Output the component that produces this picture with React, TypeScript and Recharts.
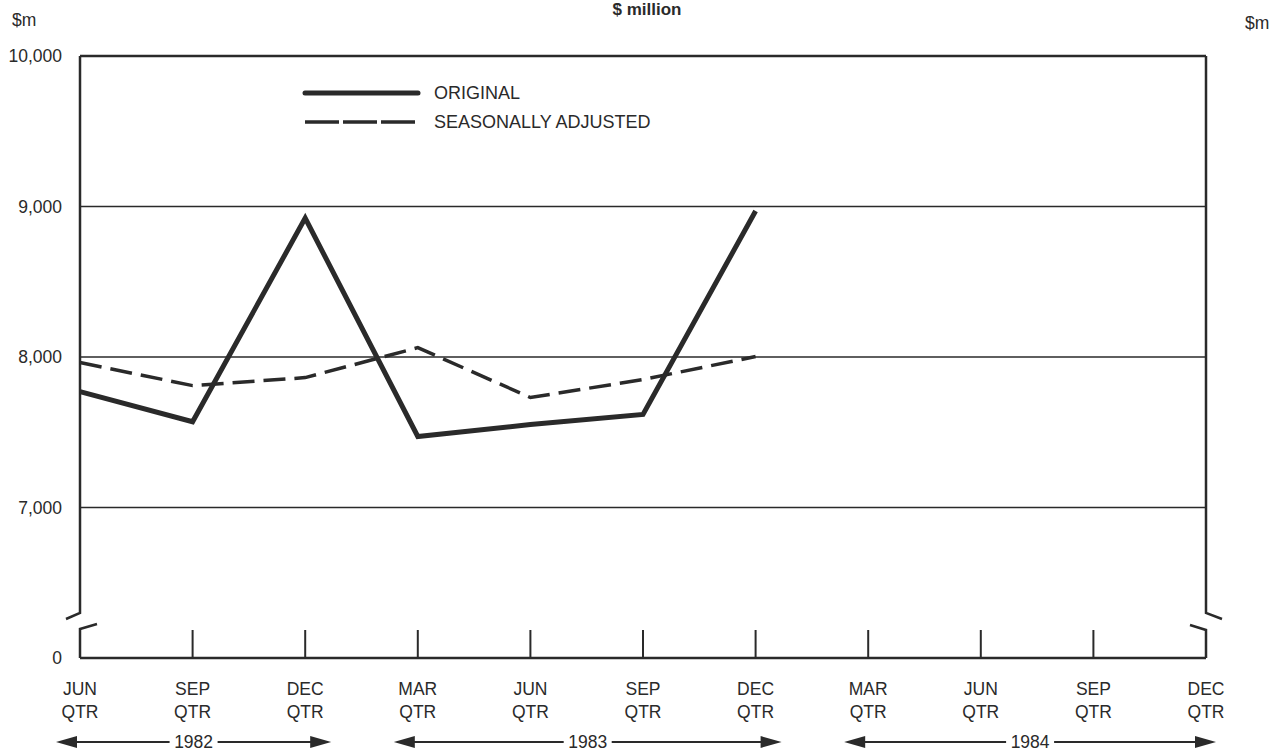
import React from 'react'
import {
  LineChart,
  Line,
  XAxis,
  YAxis,
  ReferenceLine,
  Customized,
} from 'recharts'

// quarters along the bottom
const months = ['JUN', 'SEP', 'DEC', 'MAR', 'JUN', 'SEP', 'DEC', 'MAR', 'JUN', 'SEP', 'DEC']
const years = ['1982', '1982', '1982', '1983', '1983', '1983', '1983', '1984', '1984', '1984', '1984']

// $ million
const original = [7770, 7570, 8923, 7472, 7551, 7618, 8970, null, null, null, null]
const adjusted = [7963, 7810, 7863, 8062, 7731, 7850, 8003, null, null, null, null]

// the axis is broken below 7,000 so the bottom tick stands for 0
const yTicks = [6000, 7000, 8000, 9000, 10000]
const yTickLabels = ['0', '7,000', '8,000', '9,000', '10,000']
const gridValues = [7000, 8000, 9000]

const legendItems = ['ORIGINAL', 'SEASONALLY ADJUSTED']

const W = 1273
const H = 753
const M = { top: 56, right: 0, bottom: 0, left: 0 }
const LEFT_W = 80
const RIGHT_W = 67
const X_H = 95
const PLOT_L = LEFT_W
const PLOT_R = W - RIGHT_W
const PLOT_T = M.top
const PLOT_B = H - X_H
const STEP = (PLOT_R - PLOT_L) / (months.length - 1)

const INK = '#2a2a2a'
const FONT = '"Liberation Sans", Arial, Helvetica, sans-serif'
const FS = 17.5

const data = months.map((m, i) => ({
  key: `${m} ${years[i]}`,
  original: original[i],
  adjusted: adjusted[i],
}))

function yLabel(v: number) {
  const i = yTicks.indexOf(v)
  return i >= 0 ? yTickLabels[i] : String(v)
}

function QuarterTick(props: any) {
  const { x, y, payload } = props
  const i: number = props.index ?? payload.index
  const last = months.length - 1
  const startsYear = i === 0 || years[i] !== years[i - 1]
  let arrow = null
  if (startsYear) {
    let j = i
    while (j < last && years[j + 1] === years[i]) j++
    const x0 = x - 24
    const x1 = Math.min(x + (j - i) * STEP + 26, PLOT_R + 10)
    const mid = (x0 + x1) / 2
    const ay = y + 84
    const gap = 24
    arrow = (
      <g>
        <line x1={x0 + 10} x2={mid - gap} y1={ay} y2={ay} stroke={INK} strokeWidth={1.8} />
        <line x1={mid + gap} x2={x1 - 10} y1={ay} y2={ay} stroke={INK} strokeWidth={1.8} />
        <polygon points={`${x0},${ay} ${x0 + 21},${ay - 6} ${x0 + 21},${ay + 6}`} fill={INK} />
        <polygon points={`${x1},${ay} ${x1 - 21},${ay - 6} ${x1 - 21},${ay + 6}`} fill={INK} />
        <text x={mid} y={ay + 6} textAnchor="middle" fontSize={FS} fill={INK} fontFamily={FONT}>
          {years[i]}
        </text>
      </g>
    )
  }
  return (
    <g>
      {i > 0 && i < last && (
        <line x1={x} x2={x} y1={y - 28} y2={y} stroke={INK} strokeWidth={2} />
      )}
      <text x={x} y={y + 37} textAnchor="middle" fontSize={FS} fill={INK} fontFamily={FONT}>
        {months[i]}
      </text>
      <text x={x} y={y + 60} textAnchor="middle" fontSize={FS} fill={INK} fontFamily={FONT}>
        QTR
      </text>
      {arrow}
    </g>
  )
}

// side axes with the break marks, legend, title and unit labels
function Frame() {
  const brk = PLOT_B - 45
  const lx = 305
  return (
    <g stroke={INK} strokeWidth={2.5} fill="none">
      <polyline points={`${PLOT_L},${PLOT_T} ${PLOT_L},${brk} ${PLOT_L - 14},${brk + 6}`} />
      <polyline points={`${PLOT_L + 17},${brk + 11} ${PLOT_L},${brk + 16} ${PLOT_L},${PLOT_B}`} />
      <polyline points={`${PLOT_R},${PLOT_T} ${PLOT_R},${brk} ${PLOT_R + 16},${brk + 6}`} />
      <polyline points={`${PLOT_R - 16},${brk + 12} ${PLOT_R},${brk + 17} ${PLOT_R},${PLOT_B}`} />
      <line x1={lx} x2={lx + 113} y1={93} y2={93} strokeWidth={5} strokeLinecap="round" />
      <line x1={lx} x2={lx + 113} y1={122} y2={122} strokeWidth={3.5} strokeDasharray="34 4" />
      <g stroke="none" fill={INK} fontFamily={FONT}>
        <text x={lx + 129} y={99} fontSize={18}>{legendItems[0]}</text>
        <text x={lx + 129} y={128} fontSize={18}>{legendItems[1]}</text>
        <text x={647} y={15} textAnchor="middle" fontSize={17} fontWeight="bold">$ million</text>
        <text x={12} y={26} fontSize={FS}>$m</text>
        <text x={1245} y={29} fontSize={FS}>$m</text>
      </g>
    </g>
  )
}

export default function App() {
  return (
    <div style={{ position: 'absolute', left: 0, top: 0, width: W, height: H, background: '#fff' }}>
      <LineChart width={W} height={H} data={data} margin={M}>
        {gridValues.map((v) => (
          <ReferenceLine key={v} yAxisId="left" y={v} stroke={INK} strokeWidth={1.5} />
        ))}
        <ReferenceLine yAxisId="left" y={10000} stroke={INK} strokeWidth={2.5} />
        <XAxis
          dataKey="key"
          height={X_H}
          tickSize={0}
          tickMargin={0}
          tickLine={false}
          interval={0}
          axisLine={{ stroke: INK, strokeWidth: 2.5 }}
          tick={<QuarterTick />}
        />
        <YAxis
          yAxisId="left"
          width={LEFT_W}
          domain={[6000, 10000]}
          ticks={yTicks}
          tickFormatter={yLabel}
          axisLine={false}
          tickLine={false}
          tickSize={0}
          tickMargin={18}
          tick={{ fill: INK, fontSize: FS, fontFamily: FONT }}
        />
        <YAxis
          yAxisId="right"
          orientation="right"
          width={RIGHT_W}
          domain={[6000, 10000]}
          ticks={yTicks}
          tickFormatter={yLabel}
          axisLine={false}
          tickLine={false}
          tickSize={0}
          tickMargin={9}
          tick={{ fill: INK, fontSize: FS, fontFamily: FONT, textAnchor: 'start' }}
        />
        <Line
          yAxisId="left"
          type="linear"
          dataKey="adjusted"
          stroke={INK}
          strokeWidth={3.5}
          strokeDasharray="22 9"
          dot={false}
          isAnimationActive={false}
        />
        <Line
          yAxisId="left"
          type="linear"
          dataKey="original"
          stroke={INK}
          strokeWidth={5}
          dot={false}
          isAnimationActive={false}
        />
        <Customized component={<Frame />} />
      </LineChart>
    </div>
  )
}
